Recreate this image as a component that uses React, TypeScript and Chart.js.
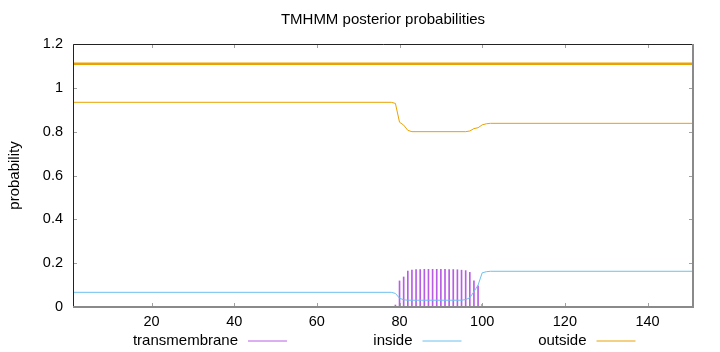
import React, { useEffect, useRef } from 'react';
import { Chart, registerables } from 'chart.js';

Chart.register(...registerables);

// ---- data ----
const SEQ_START = 1;
const SEQ_END = 151;
const X_TICKS = [20, 40, 60, 80, 100, 120, 140];
const Y_TICKS = [0, 0.2, 0.4, 0.6, 0.8, 1, 1.2];

const outsidePos = [1, 78, 79, 80, 81, 82, 83, 96, 97, 98, 99, 100, 101, 102, 151];
const outsideProb = [0.934, 0.934, 0.929, 0.843, 0.83, 0.806, 0.8, 0.8, 0.803, 0.814, 0.818, 0.831, 0.836, 0.838, 0.838];

const insidePos = [1, 78, 79, 80, 81, 82, 95, 96, 97, 98, 99, 100, 101, 102, 151];
const insideProb = [0.067, 0.067, 0.062, 0.04, 0.033, 0.031, 0.031, 0.034, 0.042, 0.07, 0.1, 0.156, 0.161, 0.163, 0.163];

const tmPos = [76, 77, 78, 79, 80, 81, 82, 83, 84, 85, 86, 87, 88, 89, 90, 91, 92, 93, 94, 95, 96, 97, 98, 99, 100, 101, 102];
const tmProb = [0.002, 0.002, 0.003, 0.009, 0.119, 0.137, 0.164, 0.169, 0.171, 0.171, 0.172, 0.172, 0.172, 0.172, 0.172, 0.172, 0.171, 0.171, 0.17, 0.168, 0.166, 0.158, 0.119, 0.097, 0.012, 0.003, 0.002];

const topologyPos = [1, 151];
const topologyLevel = [1.11, 1.11];

const TITLE = 'TMHMM posterior probabilities';
const Y_LABEL = 'probability';
const LEGEND_LABELS = ['transmembrane', 'inside', 'outside'];

const TM_COLOR = '#b85ce6';
const IN_COLOR = '#6cc0ee';
const OUT_COLOR = '#e9a200';
const FONT = '"Liberation Sans", Arial, sans-serif';
const TICK_SIZE = 14.5;
const TEXT_SIZE = 15;

const decorPlugin = {
  id: 'decor',
  afterDraw(chart: any) {
    const { ctx, chartArea: a, scales } = chart;
    const xs = scales.x;
    const ys = scales.y;
    ctx.save();
    // inward tick marks
    ctx.strokeStyle = '#a0a0a0';
    ctx.lineWidth = 1;
    ctx.beginPath();
    X_TICKS.forEach((v) => {
      const px = Math.round(xs.getPixelForValue(v)) + 0.5;
      ctx.moveTo(px, a.bottom);
      ctx.lineTo(px, a.bottom - 4);
      ctx.moveTo(px, a.top);
      ctx.lineTo(px, a.top + 4);
    });
    Y_TICKS.forEach((v) => {
      const py = Math.round(ys.getPixelForValue(v)) + 0.5;
      ctx.moveTo(a.left, py);
      ctx.lineTo(a.left + 4, py);
      ctx.moveTo(a.right, py);
      ctx.lineTo(a.right - 4, py);
    });
    ctx.stroke();
    // border: top/left dark, bottom/right grey
    ctx.strokeStyle = '#222';
    ctx.lineWidth = 1;
    ctx.beginPath();
    ctx.moveTo(Math.round(a.left) + 0.5, Math.round(a.bottom));
    ctx.lineTo(Math.round(a.left) + 0.5, Math.round(a.top) + 0.5);
    ctx.lineTo(Math.round(a.right), Math.round(a.top) + 0.5);
    ctx.stroke();
    ctx.strokeStyle = '#8a8a8a';
    ctx.lineWidth = 2;
    ctx.beginPath();
    ctx.moveTo(Math.round(a.left), Math.round(a.bottom));
    ctx.lineTo(Math.round(a.right), Math.round(a.bottom));
    ctx.lineTo(Math.round(a.right), Math.round(a.top));
    ctx.stroke();

    // title
    ctx.fillStyle = '#000';
    ctx.font = `${TEXT_SIZE}px ${FONT}`;
    ctx.textAlign = 'center';
    ctx.textBaseline = 'middle';
    ctx.fillText(TITLE, (a.left + a.right) / 2, 20);

    // y label
    ctx.save();
    ctx.translate(15, (a.top + a.bottom) / 2);
    ctx.rotate(-Math.PI / 2);
    ctx.fillText(Y_LABEL, 0, 0);
    ctx.restore();

    // legend
    const colors = [TM_COLOR, IN_COLOR, OUT_COLOR];
    const rights = [238, 412.5, 586.5];
    const ly = 341;
    LEGEND_LABELS.forEach((lab, i) => {
      ctx.fillStyle = '#000';
      ctx.textAlign = 'right';
      ctx.textBaseline = 'middle';
      ctx.fillText(lab, rights[i], ly);
      ctx.strokeStyle = colors[i];
      ctx.lineWidth = 1;
      ctx.beginPath();
      ctx.moveTo(rights[i] + 10, ly);
      ctx.lineTo(rights[i] + 49, ly);
      ctx.stroke();
    });
    ctx.restore();
  },
};

export default function App() {
  const canvasRef = useRef<HTMLCanvasElement | null>(null);

  useEffect(() => {
    const canvas = canvasRef.current;
    if (!canvas) return;
    const chart = new Chart(canvas, {
      type: 'line',
      data: {
        datasets: [
          {
            type: 'line',
            label: 'topology',
            data: topologyPos.map((x, i) => ({ x, y: topologyLevel[i] })),
            borderColor: OUT_COLOR,
            borderWidth: 2.5,
            pointRadius: 0,
            fill: false,
          },
          {
            type: 'line',
            label: 'outside',
            data: outsidePos.map((x, i) => ({ x, y: outsideProb[i] })),
            borderColor: OUT_COLOR,
            borderWidth: 1,
            pointRadius: 0,
            tension: 0,
            fill: false,
          },
          {
            type: 'line',
            label: 'inside',
            data: insidePos.map((x, i) => ({ x, y: insideProb[i] })),
            borderColor: IN_COLOR,
            borderWidth: 1,
            pointRadius: 0,
            tension: 0,
            fill: false,
          },
          {
            type: 'bar',
            label: 'transmembrane',
            data: tmPos.map((x, i) => ({ x, y: tmProb[i] })),
            backgroundColor: TM_COLOR,
            borderWidth: 0,
            barThickness: 1,
            grouped: false,
          } as any,
        ],
      },
      options: {
        responsive: false,
        devicePixelRatio: 1,
        animation: false,
        events: [],
        layout: { padding: { left: 0, top: 44, right: 27, bottom: 0 } },
        plugins: {
          legend: { display: false },
          title: { display: false },
          tooltip: { enabled: false },
        },
        scales: {
          x: {
            type: 'linear',
            min: SEQ_START,
            max: SEQ_END,
            offset: false,
            grid: { display: false, drawTicks: false },
            border: { display: false },
            ticks: {
              autoSkip: false,
              maxRotation: 0,
              padding: 6,
              color: '#000',
              font: { family: FONT, size: TICK_SIZE },
              callback: (v: any) => String(v),
            },
            afterBuildTicks: (s: any) => {
              s.ticks = X_TICKS.map((value) => ({ value }));
            },
            afterFit: (s: any) => {
              s.height = 45;
            },
          },
          y: {
            type: 'linear',
            min: 0,
            max: 1.2,
            grid: { display: false, drawTicks: false },
            border: { display: false },
            ticks: {
              padding: 10,
              color: '#000',
              font: { family: FONT, size: TICK_SIZE },
              callback: (v: any) => String(Number(Number(v).toFixed(1))),
            },
            afterBuildTicks: (s: any) => {
              s.ticks = Y_TICKS.map((value) => ({ value }));
            },
            afterFit: (s: any) => {
              s.width = 73;
            },
          },
        },
      },
      plugins: [decorPlugin],
    });
    return () => chart.destroy();
  }, []);

  return (
    <div style={{ position: 'absolute', left: 0, top: 0, width: 720, height: 352, background: '#fff' }}>
      <canvas ref={canvasRef} width={720} height={352} />
    </div>
  );
}
